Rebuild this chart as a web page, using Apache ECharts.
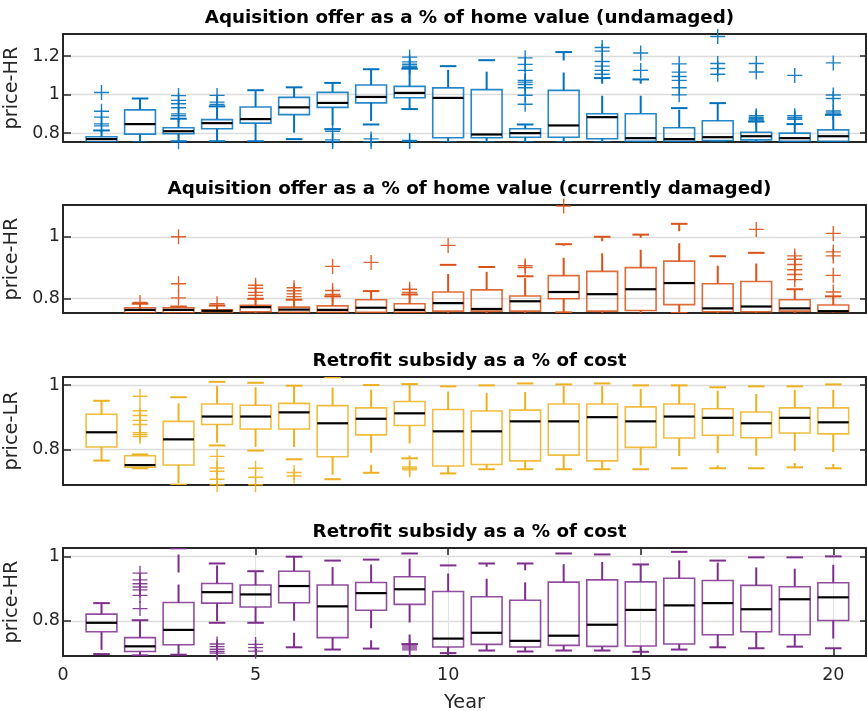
<!DOCTYPE html>
<html><head><meta charset="utf-8">
<script src="https://cdn.jsdelivr.net/npm/echarts@6/dist/echarts.min.js"></script>
<style>html,body{margin:0;padding:0;background:#fff}#c{width:867px;height:711px}</style>
</head><body><div id="c"></div>
<script>
const years = [1,2,3,4,5,6,7,8,9,10,11,12,13,14,15,16,17,18,19,20];

// Panel 1: Aquisition offer (undamaged), price-HR
const undLow = [0.752,0.752,0.758,0.758,0.758,0.769,0.821,0.845,0.925,0.752,0.752,0.752,0.752,0.752,0.752,0.752,0.752,0.752,0.752,0.752];
const undQ1  = [0.755,0.795,0.797,0.823,0.852,0.896,0.934,0.957,0.984,0.776,0.776,0.779,0.779,0.771,0.758,0.758,0.762,0.765,0.758,0.758];
const undMed = [0.769,0.847,0.810,0.852,0.873,0.934,0.957,0.988,1.009,0.983,0.793,0.800,0.840,0.883,0.774,0.769,0.779,0.784,0.774,0.784];
const undQ3  = [0.781,0.921,0.828,0.870,0.936,0.986,1.012,1.050,1.043,1.035,1.026,0.823,1.022,0.901,0.901,0.828,0.864,0.805,0.800,0.817];
const undHigh= [0.814,0.980,0.875,0.939,1.023,1.038,1.061,1.132,1.135,1.148,1.179,0.845,1.221,1.086,1.079,0.930,0.956,0.860,0.847,0.895];
const undOut = [[1,1.011],[1,0.914],[1,0.883],[1,0.848],[1,0.838],
  [3,0.995],[3,0.970],[3,0.953],[3,0.932],[3,0.900],[3,0.890],[3,0.755],
  [4,0.996],[4,0.961],[4,0.949],
  [7,0.810],[7,0.765],[7,0.756],
  [8,0.770],[8,0.756],
  [9,1.195],[9,1.170],[9,1.158],[9,1.148],[9,1.142],[9,0.762],[9,0.757],
  [12,0.950],[12,0.997],[12,1.036],[12,1.053],[12,1.065],[12,1.074],[12,1.126],[12,1.157],[12,1.191],
  [14,1.106],[14,1.126],[14,1.148],[14,1.172],[14,1.226],[14,1.245],
  [15,1.126],[15,1.216],
  [16,0.999],[16,1.036],[16,1.074],[16,1.094],[16,1.117],[16,1.160],
  [17,1.106],[17,1.136],[17,1.162],[17,1.302],
  [18,0.868],[18,0.875],[18,0.882],[18,0.890],[18,1.118],[18,1.162],
  [19,0.872],[19,0.880],[19,0.890],[19,1.100],
  [20,0.905],[20,0.915],[20,0.980],[20,0.998],[20,1.165]];

// Panel 2: Aquisition offer (currently damaged), price-HR
const damLow = [null,0.750,0.750,0.750,0.750,0.750,0.750,0.750,0.750,0.750,0.750,0.750,0.755,0.750,0.750,0.753,0.750,0.750,0.750,0.750];
const damQ1  = [null,0.754,0.754,0.753,0.757,0.755,0.755,0.755,0.755,0.759,0.759,0.759,0.799,0.759,0.761,0.780,0.757,0.757,0.759,0.757];
const damMed = [null,0.763,0.763,0.760,0.772,0.764,0.763,0.770,0.763,0.785,0.766,0.791,0.821,0.814,0.830,0.850,0.768,0.774,0.768,0.759];
const damQ3  = [null,0.770,0.770,0.763,0.778,0.772,0.776,0.796,0.783,0.821,0.828,0.808,0.874,0.888,0.900,0.921,0.848,0.855,0.796,0.779];
const damHigh= [null,0.783,0.774,0.777,0.799,0.796,0.807,0.824,0.813,0.909,0.902,0.872,0.976,1.000,1.007,1.042,0.937,0.948,0.830,0.807];
const damOut = [[2,0.787],
  [3,0.802],[3,0.848],[3,1.000],
  [4,0.783],
  [5,0.810],[5,0.820],[5,0.833],[5,0.843],
  [6,0.806],[6,0.815],[6,0.825],[6,0.835],
  [7,0.813],[7,0.826],[7,0.904],
  [8,0.917],
  [9,0.820],[9,0.830],
  [10,0.972],
  [12,0.900],[12,0.906],
  [13,1.100],
  [18,1.024],
  [19,0.861],[19,0.878],[19,0.893],[19,0.910],[19,0.927],[19,0.938],
  [20,0.821],[20,0.875],[20,0.938],[20,0.951],[20,1.011]];

// Panel 3: Retrofit subsidy, price-LR
const lrLow = [0.765,0.741,0.690,0.812,0.796,0.769,0.707,0.727,0.772,0.725,0.738,0.738,0.738,0.738,0.738,0.741,0.741,0.741,0.744,0.741];
const lrQ1  = [0.807,0.744,0.751,0.877,0.863,0.863,0.777,0.845,0.874,0.748,0.753,0.764,0.782,0.764,0.806,0.835,0.844,0.836,0.851,0.848];
const lrMed = [0.853,0.751,0.831,0.902,0.902,0.915,0.881,0.895,0.912,0.856,0.856,0.887,0.887,0.900,0.887,0.902,0.898,0.881,0.898,0.884];
const lrQ3  = [0.909,0.780,0.887,0.941,0.937,0.943,0.936,0.929,0.949,0.924,0.919,0.922,0.941,0.941,0.932,0.941,0.926,0.916,0.929,0.929];
const lrHigh= [0.951,0.784,0.962,1.010,1.007,0.998,1.024,1.000,1.003,0.996,0.999,1.005,1.002,1.005,0.999,0.999,0.993,0.996,0.996,1.002];
const lrOut = [[2,0.965],[2,0.920],[2,0.905],[2,0.890],[2,0.877],[2,0.852],[2,0.846],[2,0.840],
  [4,0.778],[4,0.742],[4,0.732],[4,0.707],[4,0.690],
  [5,0.741],[5,0.713],[5,0.690],
  [6,0.728],[6,0.717],
  [9,0.745],[9,0.740],[9,0.736]];

// Panel 4: Retrofit subsidy, price-HR
const hrLow = [0.697,0.693,0.695,0.794,0.794,0.718,0.711,0.714,0.728,0.700,0.708,0.705,0.708,0.708,0.704,0.711,0.718,0.715,0.720,0.715];
const hrQ1  = [0.766,0.705,0.726,0.855,0.843,0.856,0.748,0.833,0.851,0.719,0.727,0.719,0.724,0.721,0.722,0.728,0.757,0.766,0.757,0.801];
const hrMed = [0.794,0.721,0.772,0.889,0.882,0.908,0.845,0.886,0.898,0.745,0.763,0.738,0.754,0.788,0.834,0.848,0.855,0.836,0.867,0.873];
const hrQ3  = [0.821,0.748,0.857,0.916,0.911,0.954,0.911,0.919,0.937,0.891,0.875,0.864,0.920,0.927,0.921,0.932,0.925,0.910,0.906,0.918];
const hrHigh= [0.855,0.802,1.025,0.978,0.954,0.999,0.987,0.990,1.009,0.972,0.978,0.978,1.009,1.006,0.975,1.014,0.987,0.997,0.997,1.000];
const hrOut = [[2,0.948],[2,0.927],[2,0.915],[2,0.905],[2,0.896],[2,0.879],[2,0.838],
  [4,0.728],[4,0.720],[4,0.712],[4,0.705],[4,0.700],
  [5,0.727],[5,0.717],[5,0.706],
  [9,0.722],[9,0.716],[9,0.710]];

const panelTitles = ['Aquisition offer as a % of home value (undamaged)',
  'Aquisition offer as a % of home value (currently damaged)',
  'Retrofit subsidy as a % of cost',
  'Retrofit subsidy as a % of cost'];
const yNames = ['price-HR','price-HR','price-LR','price-HR'];
const yMins = [0.754, 0.753, 0.689, 0.691];
const yMaxs = [1.315, 1.103, 1.025, 1.026];
const ySplits = [3, 2, 2, 2];
const colors = ['#0072BD','#D95319','#EDB120','#7E2F8E'];

const panels = [
  [undLow,undQ1,undMed,undQ3,undHigh,undOut],
  [damLow,damQ1,damMed,damQ3,damHigh,damOut],
  [lrLow,lrQ1,lrMed,lrQ3,lrHigh,lrOut],
  [hrLow,hrQ1,hrMed,hrQ3,hrHigh,hrOut]
];

const FONT = 'DejaVu Sans';
const TXT = '#262626';
const tops = [34, 205, 377, 548];
const H = 108;
const XMAX = 20.85;
const plusPath = 'path://M6.8,0H8.2V6.8H15V8.2H8.2V15H6.8V8.2H0V6.8H6.8Z';

function boxRender(color) {
  return function (params, api) {
    const x = api.value(0);
    const yLo = api.coord([x, api.value(1)])[1];
    const yQ1 = api.coord([x, api.value(2)])[1];
    const pm = api.coord([x, api.value(3)]);
    const yQ3 = api.coord([x, api.value(4)])[1];
    const yHi = api.coord([x, api.value(5)])[1];
    const cx = pm[0], yMd = pm[1];
    const unit = api.size([1, 0])[0];
    const bw = unit * 0.8, cw = unit * 0.43;
    const ws = {stroke: color, lineWidth: 2, lineDash: [18, 12], fill: null};
    const cs = {stroke: color, lineWidth: 2, fill: null};
    return {type: 'group', children: [
      {type: 'line', shape: {x1: cx, y1: yQ3, x2: cx, y2: yHi}, style: ws},
      {type: 'line', shape: {x1: cx, y1: yQ1, x2: cx, y2: yLo}, style: ws},
      {type: 'line', shape: {x1: cx - cw / 2, y1: yHi, x2: cx + cw / 2, y2: yHi}, style: cs},
      {type: 'line', shape: {x1: cx - cw / 2, y1: yLo, x2: cx + cw / 2, y2: yLo}, style: cs},
      {type: 'rect', shape: {x: cx - bw / 2, y: yQ3, width: bw, height: yQ1 - yQ3},
        style: {stroke: color, lineWidth: 1.6, fill: null, opacity: 0.85}},
      {type: 'line', shape: {x1: cx - bw / 2, y1: yMd, x2: cx + bw / 2, y2: yMd},
        style: {stroke: '#000', lineWidth: 2.2}}
    ]};
  };
}

const grid = [], xAxis = [], yAxis = [], series = [], title = [];
panels.forEach((p, k) => {
  const isLast = k === 3;
  grid.push({left: 63, right: 1, top: tops[k], height: H, containLabel: false, outerBoundsMode: 'none'});
  title.push({text: panelTitles[k], left: 464.5, top: tops[k] - 29.5, textAlign: 'center',
    textStyle: {fontFamily: FONT, fontSize: 18.3, fontWeight: 'bold', color: '#000'}});
  const lineStyle = {color: TXT, width: 2};
  xAxis.push({type: 'value', gridIndex: k, min: 0, max: XMAX, interval: 5, position: 'bottom',
    axisLine: {show: true, onZero: false, lineStyle},
    axisTick: {show: isLast, inside: true, length: 7, lineStyle: {color: TXT, width: 1.5}},
    axisLabel: {show: isLast, showMaxLabel: false, margin: 10, fontFamily: FONT, fontSize: 17.5, color: TXT},
    splitLine: {show: isLast, showMinLine: false, showMaxLine: false, lineStyle: {color: '#e3e3e3', width: 1.2}},
    name: isLast ? 'Year' : '', nameLocation: 'middle', nameGap: 37,
    nameTextStyle: {fontFamily: FONT, fontSize: 19.3, color: TXT}});
  xAxis.push({type: 'value', gridIndex: k, min: 0, max: XMAX, interval: 5, position: 'top',
    axisLine: {show: true, onZero: false, lineStyle},
    axisTick: {show: isLast, inside: true, length: 7, lineStyle: {color: TXT, width: 1.5}},
    axisLabel: {show: false}, splitLine: {show: false}});
  yAxis.push({type: 'value', gridIndex: k, min: yMins[k], max: yMaxs[k], splitNumber: ySplits[k], position: 'left',
    axisLine: {show: true, onZero: false, lineStyle},
    axisTick: {show: true, inside: true, length: 8, lineStyle: {color: TXT, width: 1.5}},
    axisLabel: {showMinLabel: false, showMaxLabel: false, margin: 3, fontFamily: FONT, fontSize: 17.5, color: TXT},
    splitLine: {show: true, showMinLine: false, showMaxLine: false, lineStyle: {color: '#dcdcdc', width: 1.3}},
    name: yNames[k], nameLocation: 'middle', nameGap: 38, nameRotate: 90,
    nameTextStyle: {fontFamily: FONT, fontSize: 19.3, color: TXT}});
  yAxis.push({type: 'value', gridIndex: k, min: yMins[k], max: yMaxs[k], splitNumber: ySplits[k], position: 'right',
    axisLine: {show: true, onZero: false, lineStyle},
    axisTick: {show: true, inside: true, length: 6, lineStyle: {color: TXT, width: 1.5}},
    axisLabel: {show: false}, splitLine: {show: false}});
  const boxData = [];
  years.forEach((yr, i) => {
    if (p[0][i] == null) return;
    boxData.push([yr, p[0][i], p[1][i], p[2][i], p[3][i], p[4][i]]);
  });
  series.push({type: 'custom', xAxisIndex: 2 * k, yAxisIndex: 2 * k, clip: true,
    renderItem: boxRender(colors[k]), encode: {x: 0, y: [1, 2, 3, 4, 5]}, data: boxData, z: 3});
  series.push({type: 'scatter', xAxisIndex: 2 * k, yAxisIndex: 2 * k, clip: true,
    symbol: plusPath, symbolSize: 15, itemStyle: {color: colors[k], opacity: 0.9},
    data: p[5], z: 2});
});

const chart = echarts.init(document.getElementById('c'), null, {renderer: 'canvas'});
chart.setOption({animation: false, backgroundColor: '#fff', grid, xAxis, yAxis, series, title});
</script>
</body></html>
